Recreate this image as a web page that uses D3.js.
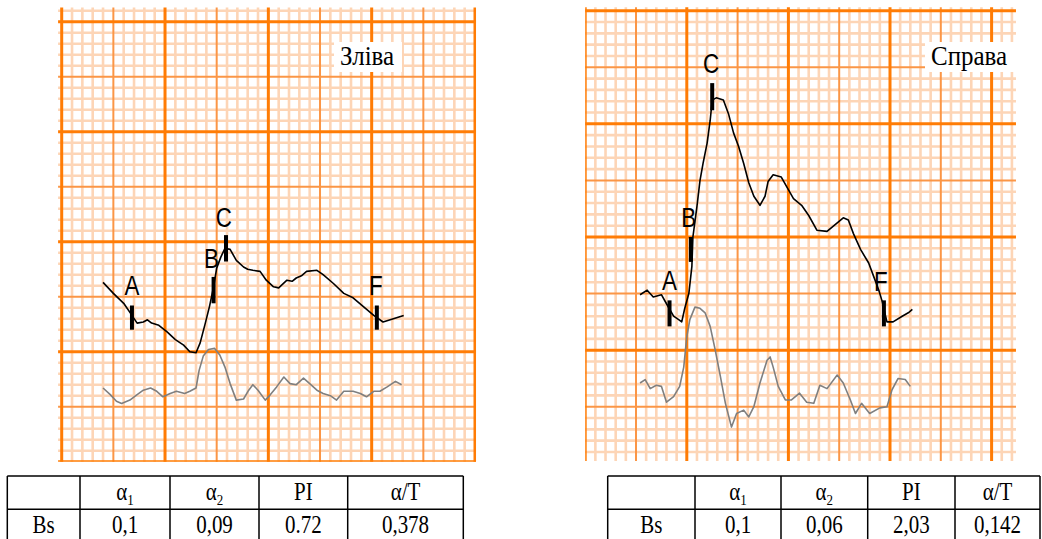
<!DOCTYPE html>
<html>
<head>
<meta charset="utf-8">
<script src="https://cdnjs.cloudflare.com/ajax/libs/d3/7.8.5/d3.min.js"></script>
<style>
  body { margin: 0; background: #fff; }
  svg { display: block; }
</style>
</head>
<body>
<svg id="chart" width="1042" height="539"></svg>
<script>
// pulse curves, in minor grid divisions (x: time, y: amplitude)
var leftBlackX = [4.0,5.0,6.0,6.8,7.3,7.9,8.3,8.7,9.4,10.2,11.0,11.8,12.4,13.0,13.4,13.9,14.3,14.7,15.0,15.4,15.8,16.3,16.9,17.6,18.0,18.5,19.2,19.8,20.5,21.0,21.8,22.3,22.7,23.2,23.7,24.7,25.3,26.3,27.3,28.2,29.2,30.2,31.1,32.1,33.1]
var leftBlackY = [16.3,15.3,14.4,13.3,12.6,12.7,12.9,12.6,12.4,11.8,11.1,10.6,10.0,9.9,10.8,12.6,14.1,15.9,17.6,18.6,19.4,19.3,18.3,17.7,17.5,17.4,17.3,16.5,15.9,15.8,16.5,16.4,16.7,16.9,17.3,17.4,17.0,16.2,15.3,14.9,14.1,13.3,12.7,13.0,13.3]
var leftGrayX = [4.0,4.7,5.3,5.8,6.6,7.3,7.9,8.6,9.2,9.8,10.5,11.1,11.9,12.4,13.0,13.3,13.7,14.2,14.8,15.3,15.8,16.3,16.9,17.6,18.1,18.5,19.0,19.7,20.2,20.8,21.5,22.1,22.7,23.4,24.0,24.7,25.3,26.0,26.6,27.3,28.2,28.9,29.5,30.2,30.8,31.5,32.3,32.9]
var leftGrayY = [6.7,6.1,5.5,5.3,5.6,6.1,6.5,6.7,6.4,5.9,6.2,6.4,6.2,6.4,6.7,8.3,9.6,10.2,10.3,9.7,8.6,7.1,5.6,5.7,6.5,7.0,6.5,5.6,6.1,6.8,7.7,7.1,7.0,7.6,7.1,6.5,6.2,6.0,5.6,6.4,6.4,6.2,5.9,6.4,6.4,6.8,7.3,7.0]

var rightBlackX = [5.4,6.1,6.7,7.5,8.0,8.7,9.2,9.5,9.8,10.2,10.5,10.6,11.0,11.3,11.6,12.0,12.3,12.5,12.9,13.6,14.1,14.6,15.1,15.6,16.1,16.6,17.2,17.7,18.0,18.5,19.3,19.8,20.5,21.3,22.0,22.8,23.8,24.6,25.4,25.9,26.4,27.1,27.9,28.4,28.9,29.2,29.7,30.3,31.2,31.8,32.2]
var rightBlackY = [14.9,15.3,14.7,14.9,14.1,13.0,12.7,12.5,13.7,15.0,17.4,20.0,22.7,25.0,26.5,28.3,30.3,32.1,32.3,32.1,30.9,29.2,28.0,26.5,24.8,23.6,22.8,23.6,24.9,25.5,25.3,24.5,23.4,22.8,21.9,20.6,20.5,21.1,21.7,21.5,20.3,18.9,17.7,16.5,15.3,14.4,12.5,12.5,13.0,13.3,13.6]
var rightGrayX = [5.4,5.9,6.4,7.0,7.5,8.0,8.7,9.3,9.7,10.0,10.3,10.8,11.3,11.8,12.3,12.8,13.3,13.8,14.4,14.9,15.6,16.1,16.6,17.2,17.9,18.2,18.5,19.0,19.7,20.3,21.1,21.8,22.5,23.1,23.8,24.8,25.4,26.1,26.6,27.2,28.0,29.0,29.7,30.2,30.8,31.5,32.0]
var rightGrayY = [7.1,7.4,6.6,6.9,6.8,5.4,5.9,6.8,8.5,11.2,12.7,13.8,13.7,13.3,12.1,10.0,7.7,5.3,3.2,4.4,4.7,4.1,5.0,7.1,9.1,9.4,8.5,6.8,5.6,5.6,6.2,5.4,5.3,6.9,6.6,7.8,7.1,5.6,4.4,5.3,4.4,4.9,5.0,6.5,7.5,7.4,6.8]

// points A, B, C, F
var markNames = ["A","B","C","F"]
var leftMarkX = [6.8,14.7,15.9,30.5]
var leftMarkTop = [14.2,16.8,20.6,14.2]
var leftMarkBottom = [12.0,14.4,18.2,12.0]
var leftLabelX = [6.8,14.5,15.7,30.4]
var leftLabelY = [15.2,17.6,21.3,15.2]
var rightMarkX = [8.3,10.4,12.5,29.4]
var rightMarkTop = [14.4,20.0,33.6,14.4]
var rightMarkBottom = [12.1,17.8,31.2,12.1]
var rightLabelX = [8.3,10.2,12.4,29.1]
var rightLabelY = [15.3,20.9,34.5,15.2]

// tables
var tableHead = ["", "α|1", "α|2", "PI", "α/T"]
var leftRow = ["Bs", "0,1", "0,09", "0.72", "0,378"]
var rightRow = ["Bs", "0,1", "0,06", "2,03", "0,142"]

var svg = d3.select("#chart")
var serif = "'Liberation Serif','Times New Roman',serif"

var panels = [
  {id:"l", title:"Зліва", titleX:340, titleY:65, box:[334,42,68,30],
   xr:[61.7,475], yr:[461.7,21.7], x0:-0.35, x1:40.1, y0:0, y1:41.3,
   bx:leftBlackX, by:leftBlackY, gx:leftGrayX, gy:leftGrayY,
   mx:leftMarkX, mt:leftMarkTop, mb:leftMarkBottom, lx:leftLabelX, ly:leftLabelY},
  {id:"r", title:"Справа", titleX:931, titleY:65, box:[925,42,92,30],
   xr:[585.2,991.6], yr:[463.3,10.7], x0:0, x1:42.4, y0:0.2, y1:40.3,
   bx:rightBlackX, by:rightBlackY, gx:rightGrayX, gy:rightGrayY,
   mx:rightMarkX, mt:rightMarkTop, mb:rightMarkBottom, lx:rightLabelX, ly:rightLabelY}
]

panels.forEach(drawPanel)

drawTable(leftRow, [7.3,80,170,259,347.7,463.3])
drawTable(rightRow, [607.7,695,781,867.7,955,1040])

function drawPanel(p) {
  var x = d3.scaleLinear().domain([0,40]).range(p.xr)
  var y = d3.scaleLinear().domain([0,40]).range(p.yr)

  svg.append("clipPath").attr("id","clip"+p.id)
    .append("rect")
      .attr("x", x(p.x0)).attr("y", y(p.y1))
      .attr("width", x(p.x1)-x(p.x0)).attr("height", y(p.y0)-y(p.y1))

  var grid = svg.append("g").attr("clip-path","url(#clip"+p.id+")")
  var xs = d3.range(Math.ceil(p.x0), Math.floor(p.x1)+1)
  var ys = d3.range(Math.ceil(p.y0), Math.floor(p.y1)+1)
  var top = y(p.y1)-2, bottom = y(p.y0)+2, left = x(p.x0)-2, right = x(p.x1)+2

  var styles = [
    {f:function(d){ return d%5 != 0 }, c:"#fdd5b6", w:2.6},
    {f:function(d){ return d%5 == 0 && d%10 != 0 }, c:"#fb9646", w:2},
    {f:function(d){ return d%10 == 0 }, c:"#ff7c05", w:3}
  ]
  styles.forEach(function(s) {
    grid.selectAll(null).data(xs.filter(s.f)).enter().append("line")
      .attr("x1", function(d){ return x(d) }).attr("x2", function(d){ return x(d) })
      .attr("y1", top).attr("y2", bottom)
      .attr("stroke", s.c).attr("stroke-width", s.w)
    grid.selectAll(null).data(ys.filter(s.f)).enter().append("line")
      .attr("y1", function(d){ return y(d) }).attr("y2", function(d){ return y(d) })
      .attr("x1", left).attr("x2", right)
      .attr("stroke", s.c).attr("stroke-width", s.w)
  })

  // title
  svg.append("rect").attr("x",p.box[0]).attr("y",p.box[1])
    .attr("width",p.box[2]).attr("height",p.box[3]).attr("fill","#fff")
  svg.append("text")
    .attr("transform","translate("+p.titleX+","+p.titleY+") scale(1,1.1)")
    .attr("font-family",serif)
    .attr("font-size",25).attr("fill","#000").text(p.title)

  var line = d3.line()
    .x(function(d){ return x(d[0]) })
    .y(function(d){ return y(d[1]) })

  svg.append("path").datum(d3.zip(p.gx,p.gy))
    .attr("d", line).attr("fill","none")
    .attr("stroke","#7f7f7f").attr("stroke-width",1.6)
    .attr("stroke-linejoin","round")

  svg.append("path").datum(d3.zip(p.bx,p.by))
    .attr("d", line).attr("fill","none")
    .attr("stroke","#000").attr("stroke-width",1.6)
    .attr("stroke-linejoin","round")

  svg.selectAll(null).data(markNames).enter().append("line")
    .attr("x1", function(d,i){ return x(p.mx[i]) })
    .attr("x2", function(d,i){ return x(p.mx[i]) })
    .attr("y1", function(d,i){ return y(p.mt[i]) })
    .attr("y2", function(d,i){ return y(p.mb[i]) })
    .attr("stroke","#000").attr("stroke-width",4)

  svg.selectAll(null).data(markNames).enter().append("text")
    .attr("transform", function(d,i){
      return "translate("+x(p.lx[i])+","+y(p.ly[i])+") scale(0.8,1)"
    })
    .attr("text-anchor","middle")
    .attr("font-family","'Liberation Sans',Arial,sans-serif")
    .attr("font-size",28).attr("fill","#000")
    .text(function(d){ return d })
}

function drawTable(row, cols) {
  var rowsY = [476, 509.3, 542.6]
  var t = svg.append("g")

  cols.forEach(function(cx) {
    t.append("line").attr("x1",cx).attr("x2",cx)
      .attr("y1",rowsY[0]).attr("y2",rowsY[2])
      .attr("stroke","#000").attr("stroke-width",1.5)
  })
  rowsY.forEach(function(ry) {
    t.append("line").attr("y1",ry).attr("y2",ry)
      .attr("x1",cols[0]).attr("x2",cols[cols.length-1])
      .attr("stroke","#000").attr("stroke-width",1.5)
  })

  ;[tableHead, row].forEach(function(cells, r) {
    var base = (rowsY[r]+rowsY[r+1])/2 + 7.5
    cells.forEach(function(c, i) {
      var cx = (cols[i]+cols[i+1])/2
      var parts = c.split("|")
      var txt = t.append("text")
        .attr("transform","translate("+cx+","+base+") scale(1,1.15)")
        .attr("text-anchor","middle").attr("font-family",serif)
        .attr("font-size",21).attr("fill","#000")
      txt.append("tspan").text(parts[0])
      if (parts[1]) {
        txt.append("tspan").attr("font-size",13).attr("dy",4).text(parts[1])
      }
    })
  })
}
</script>
</body>
</html>
